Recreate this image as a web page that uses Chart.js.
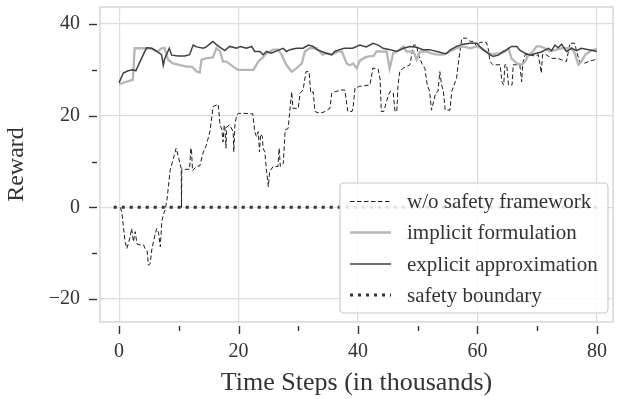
<!DOCTYPE html>
<html>
<head>
<meta charset="utf-8">
<script src="https://cdn.jsdelivr.net/npm/chart.js@4.4.1/dist/chart.umd.min.js"></script>
<style>
  html, body { margin: 0; padding: 0; background: #ffffff; }
  #wrap { width: 618px; height: 399px; }
</style>
</head>
<body>
<div id="wrap"><canvas id="c" width="618" height="399"></canvas></div>
<script>
// ---------- data (time step in thousands, reward) ----------
const xTickValues = [0, 20, 40, 60, 80];
const yTickValues = [-20, 0, 20, 40];
const seriesLabels = ['w/o safety framework', 'implicit formulation', 'explicit approximation', 'safety boundary'];

const woSafetyPoints = [
  [0.2,0],[0.45,-1],[1.0,-7.5],[1.3,-9],[1.85,-6.4],[2.1,-4.6],[2.4,-7.5],[2.7,-5.3],[3.0,-8],[3.5,-8.2],
  [4.1,-8.2],[4.35,-9],[4.7,-9.5],[4.9,-12.6],[5.2,-12.3],[5.5,-9],[6.0,-6],[6.3,-4.6],[6.6,-5.5],[6.9,-8.6],
  [7.15,-3.1],[7.4,-1.6],[7.7,-0.6],[8.0,1.5],[8.55,8.1],[9.1,10.7],[9.55,12.9],[10.0,10.6],[10.4,8.5],[10.45,0],
  [10.5,8.3],[10.7,8.3],[11.8,8.3],[12.0,12.9],[12.1,12.9],[12.3,8.0],[13.0,9.0],[13.5,9.0],[14.1,12.1],[14.6,13.5],
  [15.2,16.5],[15.75,22.0],[16.6,22.5],[16.9,18.0],[17.2,17.0],[17.4,14.3],[17.6,18.0],[17.7,17.5],[17.9,12.9],[18.0,17.5],
  [18.5,18.0],[19.1,16.5],[19.2,12.1],[19.4,18.0],[19.7,20.2],[20.0,20.5],[21.05,20.5],[22.4,20.4],[22.7,16.5],[23.0,15.4],
  [23.3,16.5],[23.5,12.1],[23.7,16.0],[24.0,15.4],[24.1,12.9],[24.4,12.1],[24.7,7.8],[25.0,4.5],[25.2,7.8],[25.8,8.9],
  [26.6,8.9],[26.8,12.9],[27.0,8.9],[27.5,9.6],[27.8,16.9],[28.3,17.2],[28.9,25.2],[29.1,21.6],[30.0,21.6],[30.3,24.9],
  [30.8,25.6],[31.3,29.6],[31.8,29.6],[32.1,24.9],[32.5,25.2],[32.8,20.9],[33.6,20.5],[34.5,20.9],[35.3,21.6],[35.6,24.9],
  [36.1,25.2],[37.2,25.6],[37.8,25.6],[38.3,20.9],[39.0,20.9],[39.2,22.0],[39.5,26.0],[40.3,26.4],[42.0,26.7],[42.5,30.4],
  [43.4,30.1],[43.7,28.0],[43.9,20.9],[44.3,20.9],[45.1,24.5],[45.4,25.3],[45.9,25.0],[46.2,20.9],[46.5,20.9],[46.7,26.7],
  [47.0,29.6],[47.6,30.4],[48.1,30.7],[48.7,31.1],[49.0,33.3],[49.3,35.4],[49.8,35.4],[50.1,33.3],[50.7,31.4],[51.2,30.3],
  [51.6,26.7],[52.0,25.3],[52.3,21.2],[53.0,24.9],[53.4,25.3],[53.7,29.6],[54.0,26.7],[54.3,25.3],[54.6,21.2],[55.4,21.2],
  [55.7,25.3],[56.5,28.2],[56.9,32.5],[57.4,36.9],[58.2,36.9],[58.8,36.2],[59.3,36.2],[59.9,35.1],[60.4,36.0],[61.0,36.0],
  [61.5,36.0],[61.8,34.7],[62.1,31.8],[62.6,31.1],[63.8,31.1],[64.1,27.4],[64.4,26.7],[64.6,31.1],[64.9,31.1],[65.2,26.7],
  [65.8,26.7],[66.0,31.1],[67.1,31.1],[67.4,27.4],[67.6,31.5],[68.0,33.3],[68.8,33.3],[69.6,33.0],[70.2,33.3],[70.7,29.3],
  [70.9,33.3],[71.5,33.3],[72.4,32.5],[73.3,32.5],[74.1,32.2],[74.9,31.8],[75.5,35.8],[76.3,35.8],[76.6,34.0],[77.1,31.8],
  [77.9,31.4],[78.6,31.8],[79.6,32.2],[80.0,32.5]
];

const implicitPoints = [
  [0,26.9],[1.2,27.4],[2.3,27.8],[2.6,34.7],[4.0,34.7],[5.1,34.7],[6.5,34.0],[7.1,34.7],[7.6,34.8],[8.2,32.2],
  [9.0,31.4],[10.2,31.0],[11.3,30.7],[12.2,30.7],[13.0,29.6],[13.5,29.4],[13.8,32.2],[14.6,32.5],[15.7,32.7],[16.3,34.7],
  [16.9,34.0],[17.4,31.8],[18.0,31.8],[19.1,30.7],[19.9,30.0],[21.9,30.0],[22.5,30.0],[23.3,31.8],[23.9,32.5],[24.7,33.6],
  [25.8,34.4],[26.6,34.4],[27.2,33.3],[28.0,31.1],[28.9,29.6],[29.7,30.3],[30.6,31.4],[31.1,34.0],[31.9,34.7],[33.1,34.7],
  [33.6,34.0],[34.1,33.3],[34.7,33.6],[35.6,33.3],[36.7,34.0],[37.3,34.0],[38.1,31.4],[38.6,31.0],[39.2,31.4],[39.8,30.3],
  [40.3,32.0],[41.2,32.7],[42.0,33.0],[42.6,33.0],[43.1,34.0],[44.8,34.0],[45.3,30.3],[45.9,33.6],[47.0,34.4],[47.6,35.1],
  [48.1,34.0],[48.7,34.0],[49.3,34.0],[49.8,32.2],[50.4,34.0],[51.4,34.0],[52.3,33.6],[53.2,33.3],[54.3,33.3],[55.4,34.0],
  [56.5,34.7],[57.6,35.1],[58.8,34.7],[59.9,35.1],[60.7,34.7],[61.5,34.0],[62.4,33.3],[63.2,33.6],[64.0,33.6],[64.6,34.0],
  [65.2,34.7],[65.7,32.5],[66.6,31.4],[67.4,31.1],[68.0,31.8],[68.5,33.2],[69.3,34.0],[69.9,35.1],[70.5,35.1],[71.3,34.7],
  [72.1,34.0],[73.0,34.3],[74.1,34.7],[75.0,34.7],[75.8,34.7],[76.3,33.6],[76.9,31.1],[77.4,31.8],[78.0,33.2],[78.8,34.0],
  [79.6,34.4],[80.0,34.6]
];

const explicitPoints = [
  [0,27.2],[0.7,29.3],[1.5,29.8],[2.3,30.0],[2.8,29.8],[3.75,32.5],[4.6,34.8],[5.5,34.7],[6.3,34.0],[7.1,33.3],
  [7.4,31.0],[7.65,32.5],[8.0,33.5],[8.4,34.7],[8.8,33.2],[9.9,33.0],[11.0,33.0],[11.8,33.3],[12.4,35.4],[13.0,35.0],
  [14.1,34.7],[14.6,35.0],[15.7,36.2],[16.3,35.5],[16.9,34.9],[17.7,34.2],[18.5,35.1],[19.7,34.7],[20.3,35.1],[21.3,34.7],
  [22.2,35.1],[22.7,34.0],[23.6,34.0],[24.1,33.3],[24.7,34.0],[25.5,33.6],[26.9,34.4],[27.5,34.7],[28.0,34.0],[28.6,34.4],
  [29.7,34.7],[30.8,34.7],[31.7,35.4],[32.5,35.1],[33.1,34.4],[33.9,34.0],[34.7,33.6],[35.6,33.3],[36.1,34.0],[36.9,34.4],
  [37.7,34.7],[38.6,34.7],[39.1,34.7],[40.3,35.4],[41.4,35.0],[42.5,35.8],[43.4,35.4],[44.2,34.7],[45.4,34.4],[46.5,34.0],
  [47.6,34.7],[48.7,35.1],[49.8,34.9],[50.9,34.4],[52.0,34.4],[53.2,34.0],[54.3,33.6],[54.8,33.5],[55.4,34.3],[56.5,35.1],
  [57.6,35.6],[58.8,35.8],[59.9,35.8],[60.4,35.1],[61.0,34.3],[61.8,33.6],[62.6,32.9],[63.5,33.2],[64.3,34.0],[64.8,34.3],
  [65.7,35.1],[66.6,35.1],[67.1,34.3],[68.0,33.6],[68.8,33.2],[69.6,33.5],[70.7,33.9],[71.9,34.7],[72.4,34.2],[73.0,35.4],
  [73.5,34.8],[74.1,35.6],[74.9,34.0],[75.8,34.7],[76.6,34.2],[77.4,34.7],[78.6,34.4],[79.4,34.2],[80.0,34.0]
];

const boundaryPoints = [[-0.9, 0], [80.5, 0]];

// ---------- helpers ----------
const toXY = pts => pts.map(p => ({ x: p[0], y: p[1] }));
const fmt = v => (v < 0 ? '\u2212' + Math.abs(v) : String(v));
const SERIF = "'Liberation Serif', 'DejaVu Serif', serif";
const TEXT = '#333333';

const datasets = [
  { label: seriesLabels[0], data: toXY(woSafetyPoints), borderColor: '#1e1e1e', borderWidth: 1.0, borderDash: [4.5, 2.5], order: 4 },
  { label: seriesLabels[1], data: toXY(implicitPoints), borderColor: '#b6b6b6', borderWidth: 2.3, order: 3 },
  { label: seriesLabels[2], data: toXY(explicitPoints), borderColor: '#404040', borderWidth: 1.5, order: 2 },
  { label: seriesLabels[3], data: toXY(boundaryPoints), borderColor: '#333333', borderWidth: 3, borderDash: [3, 5], order: 1 }
].map(d => Object.assign({ pointRadius: 0, fill: false, tension: 0, borderCapStyle: 'butt' }, d));

// frame + minor/major ticks
const framePlugin = {
  id: 'frame',
  beforeDatasetsDraw(chart) {
    const { ctx, chartArea: a } = chart;
    ctx.save();
    ctx.strokeStyle = '#d2d2d2';
    ctx.lineWidth = 1.3;
    ctx.strokeRect(a.left, a.top, a.right - a.left, a.bottom - a.top);
    ctx.restore();
  },
  afterDraw(chart) {
    const { ctx, chartArea: a, scales } = chart;
    ctx.save();
    ctx.strokeStyle = '#333333';
    ctx.lineWidth = 1.4;
    for (let v = 0; v <= 80; v += 10) {
      const px = Math.round(scales.x.getPixelForValue(v)) + 0.5;
      const len = v % 20 === 0 ? 8 : 5;
      ctx.beginPath();
      ctx.moveTo(px, a.bottom + 4);
      ctx.lineTo(px, a.bottom + 4 + len);
      ctx.stroke();
    }
    for (let v = -20; v <= 40; v += 10) {
      const py = Math.round(scales.y.getPixelForValue(v)) + 0.5;
      const len = v % 20 === 0 ? 8 : 5;
      ctx.beginPath();
      ctx.moveTo(a.left - 3, py);
      ctx.lineTo(a.left - 3 - len, py);
      ctx.stroke();
    }
    ctx.restore();
  }
};

// legend drawn inside the plot, lower right
const legendPlugin = {
  id: 'innerLegend',
  afterDatasetsDraw(chart) {
    const { ctx, chartArea: a } = chart;
    const x0 = a.right - 273, x1 = a.right - 5, y0 = a.bottom - 139, y1 = a.bottom - 9;
    ctx.save();
    ctx.beginPath();
    if (ctx.roundRect) ctx.roundRect(x0, y0, x1 - x0, y1 - y0, 4); else ctx.rect(x0, y0, x1 - x0, y1 - y0);
    ctx.fillStyle = 'rgba(255,255,255,0.85)';
    ctx.fill();
    ctx.strokeStyle = '#cccccc';
    ctx.lineWidth = 1.2;
    ctx.stroke();
    const rows = [y0 + 18.5, y0 + 49.5, y0 + 81, y0 + 112];
    chart.data.datasets.forEach((d, i) => {
      const yy = rows[i];
      ctx.beginPath();
      ctx.setLineDash(d.borderDash || []);
      ctx.strokeStyle = d.borderColor;
      ctx.lineWidth = d.borderWidth;
      ctx.moveTo(x0 + 10, yy);
      ctx.lineTo(x0 + 51, yy);
      ctx.stroke();
      ctx.setLineDash([]);
      ctx.fillStyle = TEXT;
      ctx.font = '21px ' + SERIF;
      ctx.textBaseline = 'middle';
      ctx.textAlign = 'left';
      ctx.fillText(d.label, x0 + 67, yy + 1);
    });
    ctx.restore();
  }
};

new Chart(document.getElementById('c'), {
  type: 'line',
  data: { datasets },
  options: {
    responsive: false,
    animation: false,
    devicePixelRatio: 1,
    layout: { padding: { top: 7, right: 5, left: 0, bottom: 0 } },
    plugins: { legend: { display: false }, tooltip: { enabled: false } },
    scales: {
      x: {
        type: 'linear',
        min: -3.2,
        max: 82.7,
        afterBuildTicks: s => { s.ticks = xTickValues.map(v => ({ value: v })); },
        afterFit: s => { s.height = 77; s.paddingLeft = 0; s.paddingRight = 0; s.paddingTop = 0; s.paddingBottom = 0; },
        grid: { color: '#dddddd', lineWidth: 1.2, drawTicks: false },
        border: { display: false },
        ticks: { color: TEXT, font: { family: SERIF, size: 20 }, padding: 18, callback: v => fmt(v), maxRotation: 0 },
        title: { display: true, text: 'Time Steps (in thousands)', color: TEXT, font: { family: SERIF, size: 26 }, padding: { top: 2, bottom: 0 } }
      },
      y: {
        type: 'linear',
        min: -25,
        max: 43.7,
        afterBuildTicks: s => { s.ticks = yTickValues.map(v => ({ value: v })); },
        afterFit: s => { s.width = 100; s.paddingTop = 0; s.paddingBottom = 0; s.paddingLeft = 0; s.paddingRight = 0; },
        grid: { color: '#dddddd', lineWidth: 1.2, drawTicks: false },
        border: { display: false },
        ticks: { color: TEXT, font: { family: SERIF, size: 20 }, padding: 20, callback: v => fmt(v) },
        title: { display: true, text: 'Reward', color: TEXT, font: { family: SERIF, size: 24 }, padding: { top: 2, bottom: 2 } }
      }
    }
  },
  plugins: [framePlugin, legendPlugin]
});
</script>
</body>
</html>
